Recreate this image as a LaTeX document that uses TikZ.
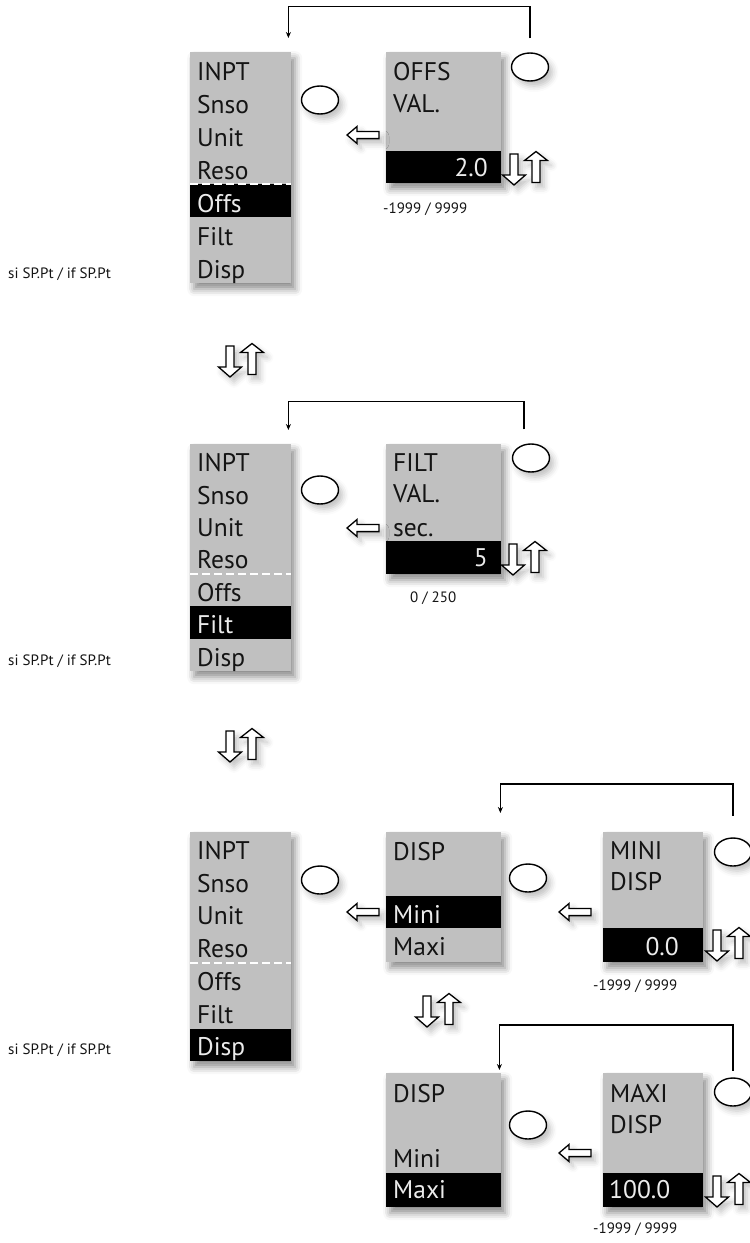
\documentclass[tikz,border=0pt]{standalone}
\usepackage{fontspec}
\setmainfont{PT Sans}
\usetikzlibrary{shapes.geometric,arrows.meta,shadows.blur}
\definecolor{boxgray}{RGB}{192,192,192}
\definecolor{txtdark}{RGB}{20,20,20}
\definecolor{txtlight}{RGB}{235,235,235}
\tikzset{
  shadowed/.style={blur shadow={shadow xshift=4pt,shadow yshift=-6pt,shadow blur radius=7pt,shadow opacity=45}},
  lightshadow/.style={blur shadow={shadow xshift=4pt,shadow yshift=-5pt,shadow blur radius=6pt,shadow opacity=25}},
  gbox/.style={rectangle,fill=boxgray,draw=none,inner sep=0pt,anchor=north west,shadowed},
  hbox/.style={rectangle,fill=black,draw=none,inner sep=0pt,anchor=north west},
  mtxt/.style={font=\fontsize{25.5}{28}\selectfont,text=txtdark,inner sep=0pt,anchor=base west},
  wtxt/.style={mtxt,text=txtlight},
  stxt/.style={font=\fontsize{15}{17}\selectfont,text=txtdark,inner sep=0pt,anchor=base west},
  knob/.style={ellipse,draw=black,line width=1.4pt,fill=white,minimum width=37pt,minimum height=28pt,inner sep=0pt,lightshadow},
  fb/.style={draw=black,line width=1.4pt,-{Stealth[length=6pt,width=5pt]}},
  dashline/.style={draw=white,line width=2pt,dash pattern=on 8pt off 4pt},
  harrowstyle/.style={draw=black,fill=white,line width=1.3pt,line join=miter,lightshadow},
  pics/hollowarrow/.style n args={4}{code={
    \draw[harrowstyle] (#1/2,0) -- (#1/2-#2,#3) -- (#1/2-#2,#4) -- (-#1/2,#4)
      -- (-#1/2,-#4) -- (#1/2-#2,-#4) -- (#1/2-#2,-#3) -- cycle;}},
  pics/leftarrow/.style={code={\pic[rotate=180] {hollowarrow={32}{10}{8.5}{3.6}};}},
  pics/updown/.style={code={
    \pic[rotate=-90] at (-11,1.5) {hollowarrow={31}{10}{11.5}{4}};
    \pic[rotate=90] at (11,-1) {hollowarrow={31}{9}{11.5}{4}};}}
}
\begin{document}
\begin{tikzpicture}[x=1pt,y=-1pt]
\useasboundingbox (0,0) rectangle (750,1243);

% ===================== Section 1 =====================
\node[gbox,minimum width=101pt,minimum height=231pt] (m1) at (190,52) {};
\node[hbox,minimum width=101pt,minimum height=33pt] (m1h) at (190,184) {};
\draw[dashline] (190,183.5) -- (291,183.5);
\node[mtxt] (m1a) at (197,80) {INPT};
\node[mtxt] (m1b) at (197,113) {Snso};
\node[mtxt] (m1c) at (197,146) {Unit};
\node[mtxt] (m1d) at (197,179) {Reso};
\node[wtxt] (m1e) at (197,212) {Offs};
\node[mtxt] (m1f) at (197,245) {Filt};
\node[mtxt] (m1g) at (197,278) {Disp};
\node[stxt] (l1) at (8,278) {si SP.Pt / if SP.Pt};

\node[gbox,minimum width=115pt,minimum height=131pt] (v1) at (386,52) {};
\node[hbox,minimum width=115pt,minimum height=32pt] (v1h) at (386,151) {};
\node[mtxt] (v1a) at (393,80) {OFFS};
\node[mtxt] (v1b) at (393,112) {VAL.};
\node[wtxt,anchor=base east] (v1c) at (488,176) {2.0};
\node[stxt] (r1) at (383,213) {-1999 / 9999};

\node[knob] (c1a) at (320,100) {};
\node[knob] (c1b) at (530,67) {};
\pic at (363,135) {leftarrow};
\pic at (525,168) {updown};
\draw[fb] ([yshift=14pt]c1b.north) -- ++(0,-32) -| ([xshift=-3pt,yshift=14pt]m1.north east);

\pic at (241,360) {updown};

% ===================== Section 2 =====================
\node[gbox,minimum width=101pt,minimum height=227pt] (m2) at (190,444) {};
\node[hbox,minimum width=101pt,minimum height=32.5pt] (m2h) at (190,606.1) {};
\draw[dashline] (190,573.5) -- (291,573.5);
\node[mtxt] (m2a) at (197,471.5) {INPT};
\node[mtxt] (m2b) at (197,504) {Snso};
\node[mtxt] (m2c) at (197,536.4) {Unit};
\node[mtxt] (m2d) at (197,568.8) {Reso};
\node[mtxt] (m2e) at (197,601.2) {Offs};
\node[wtxt] (m2f) at (197,633.6) {Filt};
\node[mtxt] (m2g) at (197,666) {Disp};
\node[stxt] (l2) at (8,665) {si SP.Pt / if SP.Pt};

\node[gbox,minimum width=115pt,minimum height=130pt] (v2) at (386,444) {};
\node[hbox,minimum width=115pt,minimum height=33pt] (v2h) at (386,541) {};
\node[mtxt] (v2a) at (393,471) {FILT};
\node[mtxt] (v2b) at (393,502) {VAL.};
\node[mtxt] (v2c) at (393,536) {sec.};
\node[wtxt,anchor=base east] (v2d) at (488,566) {5};
\node[stxt] (r2) at (410,602) {0 / 250};

\node[knob] (c2a) at (320,490) {};
\node[knob] (c2b) at (531,458) {};
\pic at (363,528) {leftarrow};
\pic at (524,558) {updown};
\draw[fb] ([xshift=-7pt,yshift=14pt]c2b.north) -- ++(0,-28) -| ([xshift=-3pt,yshift=14pt]m2.north east);

\pic at (241,745) {updown};

% ===================== Section 3 =====================
\node[gbox,minimum width=101pt,minimum height=229pt] (m3) at (190,832) {};
\node[hbox,minimum width=101pt,minimum height=32.7pt] (m3h) at (190,1028.3) {};
\draw[dashline] (190,962.5) -- (291,962.5);
\node[mtxt] (m3a) at (197,859.5) {INPT};
\node[mtxt] (m3b) at (197,892.2) {Snso};
\node[mtxt] (m3c) at (197,924.9) {Unit};
\node[mtxt] (m3d) at (197,957.6) {Reso};
\node[mtxt] (m3e) at (197,990.4) {Offs};
\node[mtxt] (m3f) at (197,1023.1) {Filt};
\node[wtxt] (m3g) at (197,1055.8) {Disp};
\node[stxt] (l3) at (8,1054) {si SP.Pt / if SP.Pt};

\node[gbox,minimum width=115pt,minimum height=130pt] (d3) at (386,832) {};
\node[hbox,minimum width=115pt,minimum height=32pt] (d3h) at (386,896) {};
\node[mtxt] (d3a) at (393,860) {DISP};
\node[wtxt] (d3b) at (393,923) {Mini};
\node[mtxt] (d3c) at (393,955) {Maxi};

\node[gbox,minimum width=100pt,minimum height=130pt] (n3) at (603,832) {};
\node[hbox,minimum width=100pt,minimum height=34pt] (n3h) at (603,928) {};
\node[mtxt] (n3a) at (610,859) {MINI};
\node[mtxt] (n3b) at (610,890) {DISP};
\node[wtxt,anchor=base east] (n3c) at (679,955) {0.0};
\node[stxt] (r3) at (593,990) {-1999 / 9999};

\node[knob] (c3a) at (320,880) {};
\node[knob] (c3b) at (528,878) {};
\node[knob] (c3c) at (733,852) {};
\pic at (363,912) {leftarrow};
\pic at (575,912) {leftarrow};
\pic at (728,944) {updown};
\draw[fb] ([yshift=21.5pt]c3c.north) -- ++(0,-32) -| ([xshift=-1pt,yshift=19pt]d3.north east);

\pic at (438,1010) {updown};

% ===================== Section 4 =====================
\node[gbox,minimum width=115pt,minimum height=134pt] (d4) at (386,1073) {};
\node[hbox,minimum width=115pt,minimum height=34pt] (d4h) at (386,1173) {};
\node[mtxt] (d4a) at (393,1102) {DISP};
\node[mtxt] (d4b) at (393,1167) {Mini};
\node[wtxt] (d4c) at (393,1198) {Maxi};

\node[gbox,minimum width=100pt,minimum height=134pt] (x4) at (603,1073) {};
\node[hbox,minimum width=100pt,minimum height=34pt] (x4h) at (603,1173) {};
\node[mtxt] (x4a) at (610,1102) {MAXI};
\node[mtxt] (x4b) at (610,1133) {DISP};
\node[wtxt] (x4c) at (609,1198) {100.0};
\node[stxt] (r4) at (593,1233) {-1999 / 9999};

\node[knob] (c4b) at (528,1125) {};
\node[knob] (c4c) at (733,1092) {};
\pic at (575,1153) {leftarrow};
\pic at (728,1190) {updown};
\draw[fb] ([yshift=6.5pt]c4c.north) -- ++(0,-46) -| ([xshift=-2pt,yshift=3pt]d4.north east);
\end{tikzpicture}
\end{document}
